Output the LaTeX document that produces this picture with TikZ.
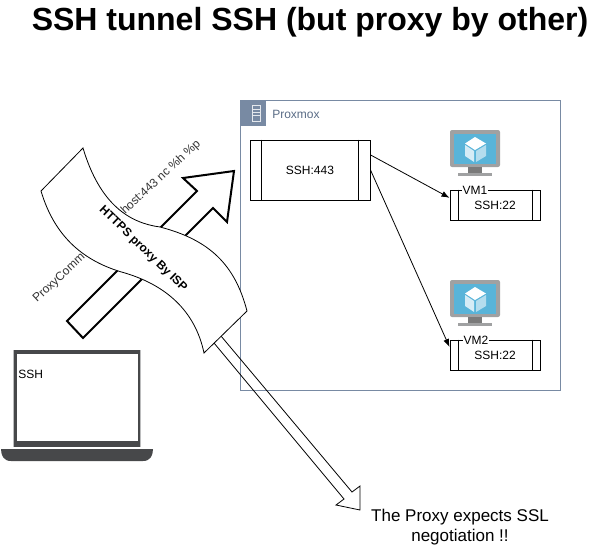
\documentclass[tikz,border=0pt]{standalone}
\usepackage{fontspec}
\setmainfont{Liberation Sans}
\usetikzlibrary{arrows.meta}
\definecolor{framecol}{HTML}{788AA3}
\definecolor{frametext}{HTML}{5A6C86}
\definecolor{screenblue}{HTML}{59B4D9}
\definecolor{monitorgray}{HTML}{A0A1A2}
\definecolor{standgray}{HTML}{7A7A7A}
\definecolor{laptopdark}{HTML}{47484A}
\tikzset{
	boxlabel/.style={font=\fontsize{9}{11}\selectfont, inner sep=0.5pt},
	sshbox/.style={draw=black, line width=0.75pt, fill=white, font=\fontsize{9}{11}\selectfont, inner sep=0pt},
	cmdlabel/.style={font=\fontsize{9}{11}\selectfont, rotate=43, inner sep=0pt, text=black!80},
	thinline/.style={draw=black, line width=0.6pt},
}
\begin{document}
\begin{tikzpicture}[x=0.75pt, y=-0.75pt, >={Latex[length=6pt,width=4.5pt]}]
	%%%%% START %%%%%
	\useasboundingbox (0, 0) rectangle (610, 546);
	
	\node[font=\bfseries\fontsize{24}{28}\selectfont] (title) at (310, 22) {SSH tunnel SSH (but proxy by other)};
	
	% proxmox frame
	\draw[framecol, line width=0.75pt] (240, 100) rectangle (560, 390.5);
	\fill[framecol] (240, 100) rectangle (265.5, 125.5);
	\draw[white!80!framecol, line width=0.7pt] (252, 105) rectangle (260, 121);
	\draw[white!80!framecol, line width=0.7pt] (252, 109) -- (260, 109) (252, 112) -- (260, 112) (252, 115) -- (260, 115);
	\node[anchor=west, text=frametext, font=\fontsize{9}{11}\selectfont, inner sep=0pt] (proxmox) at (272, 114) {Proxmox};
	
	% ssh boxes
	\node[sshbox, minimum width=90pt, minimum height=45pt] (ssh443) at (310, 170) {SSH:443};
	\draw[black, line width=0.75pt] ([xshift=9pt]ssh443.north west) -- ([xshift=9pt]ssh443.south west);
	\draw[black, line width=0.75pt] ([xshift=-9pt]ssh443.north east) -- ([xshift=-9pt]ssh443.south east);
	
	\node[sshbox, minimum width=67.5pt, minimum height=22.5pt] (ssh1) at (495, 205) {SSH:22};
	\draw[black, line width=0.75pt] ([xshift=7pt]ssh1.north west) -- ([xshift=7pt]ssh1.south west);
	\draw[black, line width=0.75pt] ([xshift=-6pt]ssh1.north east) -- ([xshift=-6pt]ssh1.south east);
	\node[boxlabel, fill=white] (vm1) at (475, 190) {VM1};
	
	\node[sshbox, minimum width=67.5pt, minimum height=22.5pt] (ssh2) at (495, 355) {SSH:22};
	\draw[black, line width=0.75pt] ([xshift=7pt]ssh2.north west) -- ([xshift=7pt]ssh2.south west);
	\draw[black, line width=0.75pt] ([xshift=-6pt]ssh2.north east) -- ([xshift=-6pt]ssh2.south east);
	\node[boxlabel, fill=white] (vm2) at (476, 340) {VM2};
	
	\draw[->, black, line width=0.6pt] (ssh443.14) -- (ssh1.171);
	\draw[->, black, line width=0.6pt] (ssh443.east) -- (ssh2.170);
	
	% monitors
	\foreach \vmy in {0, 150} {
		\begin{scope}[shift={(0, \vmy)}]
			\fill[monitorgray, rounded corners=1.5pt] (450, 130) rectangle (500, 167);
			\fill[screenblue] (454, 134) rectangle (496, 164);
			\fill[standgray] (468, 167) rectangle (482, 173);
			\fill[monitorgray] (458, 173) rectangle (492, 176);
			\fill[white] (475, 137) -- (486, 143.5) -- (475, 150) -- (465, 143.5) -- cycle;
			\fill[white!75!screenblue] (465, 145) -- (474, 151) -- (474, 162) -- (465, 156) -- cycle;
			\fill[white!55!screenblue] (476, 151) -- (486, 145) -- (486, 156) -- (476, 162) -- cycle;
		\end{scope}
	}
	
	% laptop
	\fill[monitorgray!70] (13, 350) rectangle (141, 447);
	\fill[laptopdark] (13.5, 350) rectangle (139.5, 447);
	\fill[white] (16.5, 353.5) rectangle (137.5, 441);
	\fill[laptopdark] (1, 449) -- (153, 449) .. controls (153, 456) and (150, 461) .. (143, 461) -- (11, 461) .. controls (4, 461) and (1, 456) .. (1, 449) -- cycle;
	\node[anchor=west, font=\fontsize{9}{11}\selectfont, inner sep=0pt] (ssh) at (18, 374) {SSH};
	
	% proxycommand arrow
	\draw[black, line width=1.5pt, line join=miter, fill=white] (67, 321) -- (197, 191) -- (183, 178) -- (234, 171) -- (227, 222) -- (213, 208) -- (83, 338) -- cycle;
	\node[cmdlabel, anchor=west] (cmdleft) at (35, 301) {ProxyComm};
	\node[cmdlabel, anchor=east] (cmdright) at (199, 142) {host:443 nc \%h \%p};
	
	% arrow to the note
	\draw[thinline] (221, 336) -- (352, 492) -- (360, 486) -- (360, 510) -- (336, 505) -- (344, 499) -- (214, 343);
	
	% proxy banner
	\draw[thinline, fill=white] (83, 148) .. controls (100, 205) and (130, 223) .. (160, 227) .. controls (210, 240) and (235, 265) .. (247, 311) -- (204, 353) .. controls (195, 310) and (165, 285) .. (125, 273) .. controls (85, 262) and (55, 238) .. (41, 191) -- cycle;
	\node[font=\bfseries\fontsize{9}{10}\selectfont, rotate=-44, inner sep=0pt] (isp) at (143, 249) {HTTPS proxy By ISP};
	
	\node[align=center, font=\fontsize{12.75}{15}\selectfont, inner sep=0pt] (note) at (460, 527) {The Proxy expects SSL\\negotiation !!};
	%%%%% END %%%%%
\end{tikzpicture}
\end{document}
